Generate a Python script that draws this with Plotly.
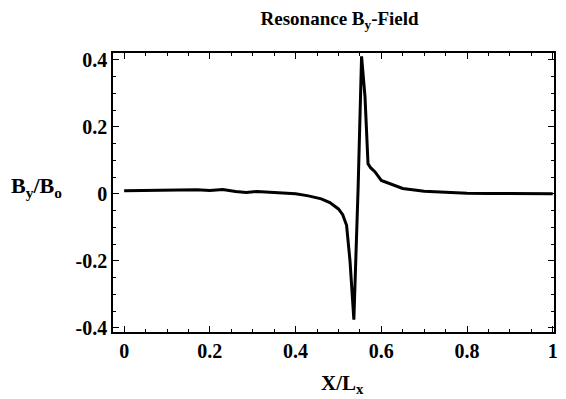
import plotly.graph_objects as go

x_vals = [0.0, 0.05, 0.1, 0.15, 0.17, 0.2, 0.23, 0.26, 0.285, 0.31, 0.34, 0.37, 0.4,
          0.43, 0.46, 0.48, 0.5, 0.51, 0.519, 0.527, 0.536, 0.546, 0.554, 0.562, 0.569,
          0.575, 0.585, 0.6, 0.62, 0.65, 0.7, 0.75, 0.8, 0.85, 0.9, 0.95, 1.0]
by_vals = [0.009, 0.010, 0.009, 0.011, 0.012, 0.010, 0.013, 0.007, 0.004, 0.007, 0.004, 0.003, 0.0,
           -0.006, -0.015, -0.026, -0.045, -0.062, -0.094, -0.2, -0.375, 0.02, 0.41, 0.29, 0.09,
           0.078, 0.066, 0.04, 0.03, 0.016, 0.008, 0.004, 0.002, 0.001, 0.0, 0.0, 0.0]

x_ticks = [0, 0.2, 0.4, 0.6, 0.8, 1.0]
x_tick_text = ["0", "0.2", "0.4", "0.6", "0.8", "1"]
y_ticks = [-0.4, -0.2, 0, 0.2, 0.4]
y_tick_text = ["-0.4", "-0.2", "0", "0.2", "0.4"]

FONT = "Liberation Serif"

fig = go.Figure()
fig.add_trace(go.Scatter(x=x_vals, y=by_vals, mode="lines",
                         line=dict(color="black", width=3), showlegend=False))

axis_common = dict(
    showgrid=False, zeroline=False, showline=True, linecolor="black", linewidth=1.5,
    mirror="ticks", ticks="inside", ticklen=6, tickwidth=1.2, tickcolor="black",
    tickfont=dict(family=FONT, size=20, color="black", weight="bold"),
)

fig.update_layout(
    width=566, height=399,
    margin=dict(l=113, r=8, t=53, b=67),
    paper_bgcolor="white", plot_bgcolor="white",
    title=dict(text="<b>Resonance B<sub>y</sub>-Field</b>", x=0.6,
               xanchor="center", y=0.955, yanchor="middle",
               font=dict(family=FONT, size=19, color="black")),
    xaxis=dict(range=[-0.026, 1.003], tickvals=x_ticks, ticktext=x_tick_text,
               minor=dict(ticks="inside", dtick=0.05, tick0=0, ticklen=3, tickcolor="black"),
               **axis_common),
    yaxis=dict(range=[-0.412, 0.42], tickvals=y_ticks, ticktext=y_tick_text,
               minor=dict(ticks="inside", dtick=0.05, tick0=0, ticklen=3, tickcolor="black"),
               **axis_common),
    annotations=[
        dict(text="<b>B<sub>y</sub>/B<sub>o</sub></b>", xref="paper", yref="paper",
             x=-0.173, y=0.52, showarrow=False, xanchor="center", yanchor="middle",
             font=dict(family=FONT, size=22, color="black")),
        dict(text="<b>X/L<sub>x</sub></b>", xref="paper", yref="paper",
             x=0.52, y=-0.185, showarrow=False, xanchor="center", yanchor="middle",
             font=dict(family=FONT, size=21, color="black")),
    ],
)

fig.write_html("out.html")
